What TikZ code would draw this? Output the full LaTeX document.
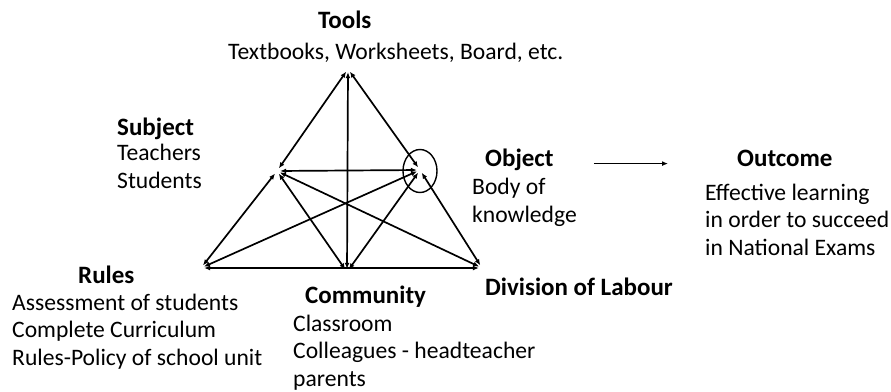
\documentclass[tikz,border=0pt]{standalone}
\usepackage{fontspec}
\setmainfont{Carlito}
\usetikzlibrary{arrows.meta,shapes.geometric,positioning}

\begin{document}
\begin{tikzpicture}[x=1pt,y=-1pt,
  vertex/.style={circle,inner sep=0pt,minimum size=6pt},
  link/.style={line width=1.7pt,{Latex[length=6pt,width=5pt]}-{Latex[length=6pt,width=5pt]}},
  title/.style={font=\fontsize{25}{27}\selectfont\bfseries,inner sep=0pt,anchor=base west},
  body/.style={font=\fontsize{23.6}{27.3}\selectfont,inner sep=0pt,align=left,anchor=base west}]
\useasboundingbox (0,0) rectangle (891,391);

% corners of the triangle
\node[vertex] (T) at (348,69) {};
\node[vertex] (S) at (277,171) {};
\node[vertex] (O) at (420,170) {};
\node[vertex] (R) at (201,268) {};
\node[vertex] (C) at (347,272) {};
\node[vertex] (D) at (482,268) {};
\node[draw,ellipse,line width=1.4pt,minimum width=34pt,minimum height=43pt] (ring) at (420,171) {};

% links between the corners
\foreach \a/\b in {T/S,T/O,T/C,S/O,S/R,S/C,S/D,O/R,O/C,O/D,R/D}
  \draw[link] (\a) -- (\b);

% labels (bodies sit on their last line)
\node[title] (tools) at (318,28) {Tools};
\node[body] (toolsTxt) at (228,59) {Textbooks, Worksheets, Board, etc.};
\node[title] (subj) at (117,135) {Subject};
\node[body] (subjTxt) at (117,188) {Teachers\\Students};
\node[title] (obj) at (485,166) {Object};
\node[body] (objTxt) at (472,222) {Body of\\knowledge};
\node[title] (outc) at (737,166) {Outcome};
\node[body] (outcTxt) at (705,255) {Effective learning\\in order to succeed\\in National Exams};
\node[title] (rules) at (78,283) {Rules};
\node[body] (rulesTxt) at (12,365) {Assessment of students\\Complete Curriculum\\Rules-Policy of school unit};
\node[title] (comm) at (305,303) {Community};
\node[body] (commTxt) at (293,386) {Classroom\\Colleagues - headteacher\\parents};
\node[title] (div) at (485,295) {Division of Labour};

\draw[line width=1.7pt,-{Latex[length=6pt,width=5pt]},shorten <=40pt,shorten >=69pt] (obj.mid east) -- (outc.mid west);
\end{tikzpicture}
\end{document}
